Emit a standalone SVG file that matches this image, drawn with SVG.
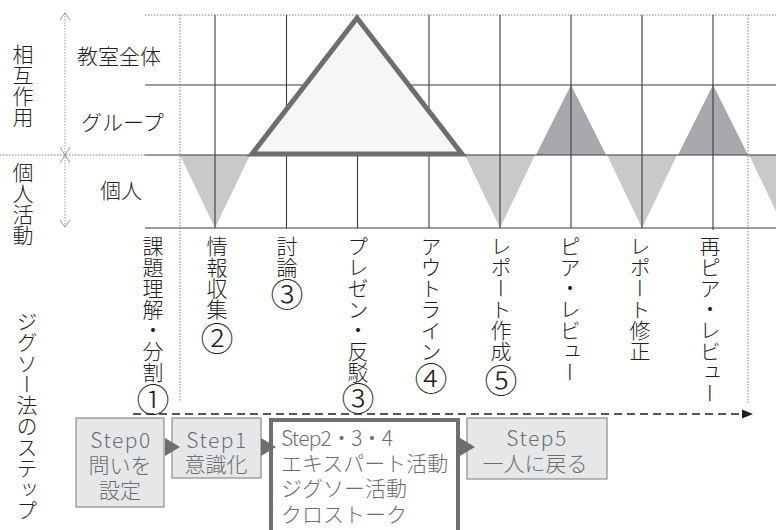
<svg xmlns="http://www.w3.org/2000/svg" width="776" height="530" viewBox="0 0 776 530">
<defs>
<style>
text{font-family:"Noto Sans CJK JP","Noto Sans",sans-serif;fill:#231f20;font-weight:300}
.lbl{font-size:21px}
.vt{font-size:21px;writing-mode:vertical-rl}
.cn{font-size:33px}
.grid{stroke:#3a3a3a;stroke-width:1.1;fill:none}
.dot{stroke:#808080;stroke-width:1;stroke-dasharray:1.5 1.5;fill:none}
.ax{stroke:#8a8a8a;stroke-width:0.9;fill:none}
.lt{fill:#c8c9cb}
.dk{fill:#a7a9ac}
.box{fill:#e6e7e8;stroke:#8c8c8c;stroke-width:1.2}
.st{font-size:21px;fill:#6d6e70}
.ls{letter-spacing:1.5px}
.ah{fill:#6d6e70}
</style>
</defs>
<rect width="776" height="530" fill="#ffffff"/>

<g id="chart">
<polygon class="lt" points="180,155 250,155 215,228"/>
<polygon class="lt" points="465,155 535,155 500,228"/>
<polygon class="lt" points="607,155 677,155 642,228"/>
<polygon class="lt" points="749,155 819,155 784,228"/>
<polygon class="dk" points="536,155 571,85 606,155"/>
<polygon class="dk" points="678,155 713,85 748,155"/>
<line class="dot" x1="145" y1="15" x2="776" y2="15"/>
<line class="grid" x1="145" y1="85" x2="776" y2="85"/>
<line class="dot" x1="0" y1="155" x2="145" y2="155"/>
<line class="grid" x1="145" y1="155" x2="776" y2="155"/>
<line class="grid" x1="145" y1="228" x2="776" y2="228"/>
<line class="grid" x1="215" y1="15" x2="215" y2="228"/>
<line class="grid" x1="286.5" y1="15" x2="286.5" y2="228"/>
<line class="grid" x1="357.5" y1="15" x2="357.5" y2="228"/>
<line class="grid" x1="429" y1="15" x2="429" y2="228"/>
<line class="grid" x1="500" y1="15" x2="500" y2="228"/>
<line class="grid" x1="571" y1="15" x2="571" y2="228"/>
<line class="grid" x1="642" y1="15" x2="642" y2="228"/>
<line class="grid" x1="713" y1="15" x2="713" y2="230"/>
<line class="dot" x1="180" y1="15" x2="180" y2="402"/>
<line class="dot" x1="748" y1="15" x2="748" y2="403"/>
<polygon points="357,18 252,154 462,154" fill="#f6f6f6" stroke="#6d6e70" stroke-width="5"/>
</g>

<g id="axis">
<line class="ax" x1="65" y1="13" x2="65" y2="227" stroke-dasharray="1.5 1.5"/>
<polyline class="ax" points="60,20 65,13 70,20"/>
<polyline class="ax" points="60,147 65,155 70,147"/>
<polyline class="ax" points="60,163 65,155 70,163"/>
<polyline class="ax" points="60,220 65,227 70,220"/>
<text class="vt" x="23" y="44">相互作用</text>
<text class="vt" x="23" y="162">個人活動</text>
<text class="vt" x="27" y="311">ジグソー法のステップ</text>
</g>

<g id="levels">
<text class="lbl" x="77" y="64">教室全体</text>
<text class="lbl" x="81" y="130">グループ</text>
<text class="lbl" x="100" y="198">個人</text>
</g>

<g id="activities">
<text class="vt" x="153" y="236">課題理解・分割<tspan class="cn">①</tspan></text>
<text class="vt" x="217" y="236">情報収集<tspan class="cn" dy="2">②</tspan></text>
<text class="vt" x="287" y="236">討論<tspan class="cn">③</tspan></text>
<text class="vt" x="358" y="236">プレゼン・反駁<tspan class="cn" dy="-1">③</tspan></text>
<text class="vt" x="431" y="236">アウトライン<tspan class="cn">④</tspan></text>
<text class="vt" x="501" y="236">レポート作成<tspan class="cn" dy="2">⑤</tspan></text>
<text class="vt" x="570" y="236">ピア・レビュー</text>
<text class="vt" x="640" y="236">レポート修正</text>
<text class="vt" x="710" y="236">再ピア・レビュー</text>
</g>

<g id="step0">
<rect class="box" x="76" y="418" width="88" height="89"/>
<text class="st ls" x="121" y="448" text-anchor="middle">Step0</text>
<text class="st" x="120" y="473" text-anchor="middle">問いを</text>
<text class="st" x="120" y="498" text-anchor="middle">設定</text>
</g>
<g id="step1">
<rect class="box" x="172" y="418" width="89" height="60"/>
<text class="st ls" x="217" y="448" text-anchor="middle">Step1</text>
<text class="st" x="216" y="472" text-anchor="middle">意識化</text>
</g>
<g id="step234">
<rect x="271" y="420" width="187" height="130" fill="#ffffff" stroke="#6d6e70" stroke-width="4"/>
<text class="st" x="281" y="446" textLength="112" lengthAdjust="spacing">Step2・3・4</text>
<text class="st" x="281" y="471">エキスパート活動</text>
<text class="st" x="281" y="496">ジグソー活動</text>
<text class="st" x="281" y="522">クロストーク</text>
</g>
<g id="step5">
<rect class="box" x="467" y="418" width="140" height="61"/>
<text class="st ls" x="537" y="446" text-anchor="middle">Step5</text>
<text class="st" x="535" y="471" text-anchor="middle">一人に戻る</text>
</g>

<g id="connectors">
<line x1="133" y1="414" x2="743" y2="414" stroke="#231f20" stroke-width="1.3" stroke-dasharray="8 5"/>
<polygon points="742,409.5 753,414 742,418.5" fill="#231f20"/>
<polygon class="ah" points="165,438 180,447 165,456"/>
<polygon class="ah" points="261,438 276,447 261,456"/>
<polygon class="ah" points="460,438 475,447 460,456"/>
</g>
</svg>
